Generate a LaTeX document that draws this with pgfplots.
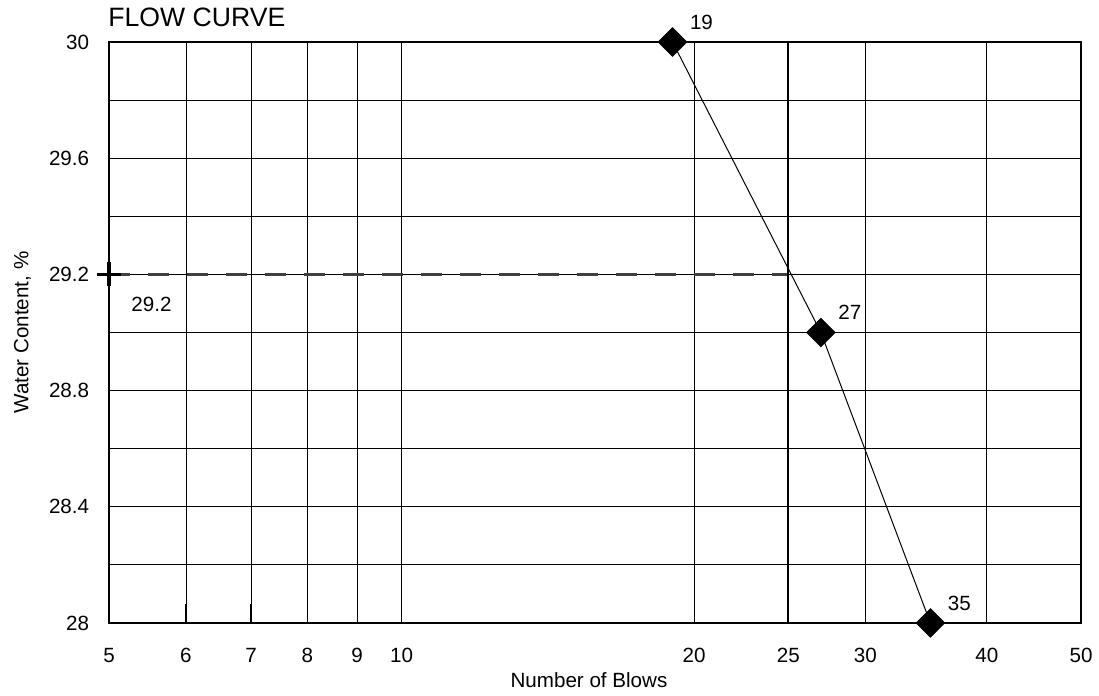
\documentclass[border=0pt]{standalone}
\usepackage{fontspec}
\setmainfont{Liberation Sans}
\usepackage{pgfplots}
\pgfplotsset{compat=1.18}
\begin{document}
\begin{tikzpicture}[font=\fontsize{10.3}{12}\selectfont]
\begin{axis}[
    scale only axis,
    width=486pt, height=290.5pt,
    xmode=log,
    xmin=5, xmax=50, ymin=28, ymax=30,
    xtick={5,6,7,8,9,10,20,25,30,40,50},
    xticklabels={5,6,7,8,9,10,20,25,30,40,50},
    minor xtick={},
    ytick={28,28.4,28.8,29.2,29.6,30},
    yticklabels={28,28.4,28.8,29.2,29.6,30},
    minor ytick={28.2,28.6,29,29.4,29.8},
    xmajorgrids, ymajorgrids, yminorgrids,
    grid style={black, line width=0.45pt},
    minor grid style={black, line width=0.45pt},
    tick align=inside,
    tick pos=left,
    major tick length=9.5pt, minor tick length=9.5pt,
    every tick/.style={black, line width=0.55pt},
    axis line style={black, line width=0.6pt},
    /pgf/number format/assume math mode=true,
    xticklabel style={inner sep=0pt, anchor=north, yshift=-12.5pt},
    yticklabel style={inner sep=0pt, anchor=east, xshift=-9.75pt},
    xlabel={Number of Blows},
    ylabel={Water Content, \%},
    xlabel style={at={(rel axis cs:0.4938,-0.0981)}, anchor=center, inner sep=0pt},
    ylabel style={at={(rel axis cs:-0.0890,0.5)}, anchor=center, inner sep=0pt},
    clip=false,
]
    % reading at 25 blows
    \addplot[black!75, line width=1.3pt, dash pattern=on 10.5pt off 9pt] coordinates {
        (5,29.2) (25,29.2)
    };
    \addplot[black, line width=1pt] coordinates {
        (25,28) (25,30)
    };
    % flow curve
    \addplot[black, line width=0.5pt,
        mark=square*, mark size=5pt,
        mark options={rotate=45, solid, fill=black},
        nodes near coords, point meta=explicit symbolic,
        every node near coord/.append style={anchor=west, inner sep=0pt, xshift=8.5pt, yshift=10pt},
    ] coordinates {
        (19,30) [19]
        (27,29) [27]
        (35,28) [35]
    };
    % liquid limit mark
    \addplot[black, line width=1.6pt, only marks, mark=+, mark size=6pt] coordinates {
        (5,29.2)
    };
    \node[anchor=west, inner sep=0pt, xshift=11pt, yshift=-15pt] at (axis cs:5,29.2) {29.2};
    \node[anchor=west, inner sep=0pt, font=\fontsize{13.3}{16}\selectfont]
        at (rel axis cs:-0.001,1.0422) {FLOW CURVE};
    \coordinate (bl) at (rel axis cs:-0.11214,-0.12565);
    \coordinate (tr) at (rel axis cs:1.01852,1.07229);
\end{axis}
\pgfresetboundingbox
\useasboundingbox (bl) rectangle (tr);
\end{tikzpicture}
\end{document}
